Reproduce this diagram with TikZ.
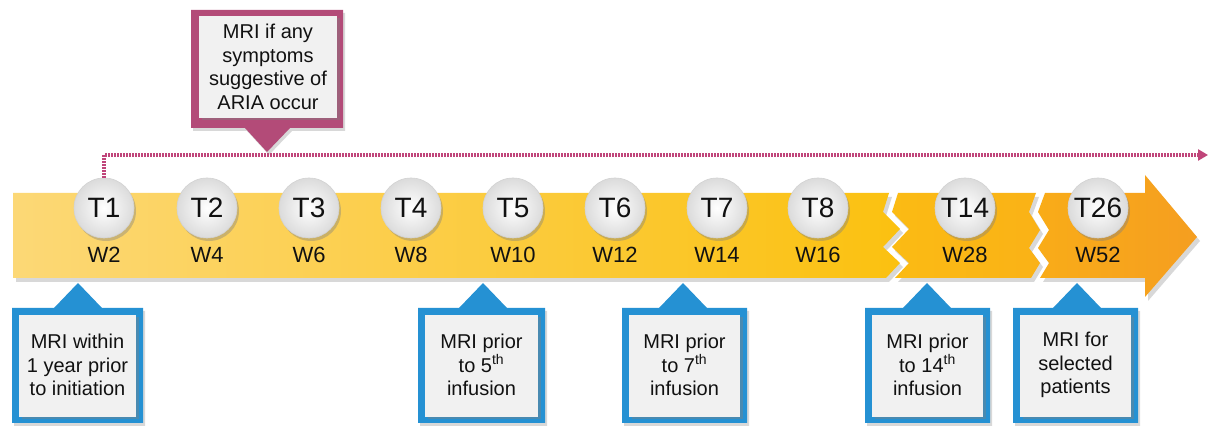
\documentclass[tikz,border=0pt]{standalone}
\usepackage{fontspec}
\setmainfont{Liberation Sans}
\usetikzlibrary{arrows.meta,shadows}
\definecolor{pinkc}{HTML}{B34B78}
\definecolor{dotc}{HTML}{C0457A}
\definecolor{bluec}{HTML}{2591D3}
\definecolor{bandA}{RGB}{252,216,118}
\definecolor{bandB}{RGB}{251,193,16}
\definecolor{bandC}{RGB}{251,187,20}
\definecolor{bandD}{RGB}{250,178,22}
\definecolor{bandE}{RGB}{249,172,24}
\definecolor{bandF}{RGB}{245,158,32}
\definecolor{boxfill}{HTML}{F1F1F1}
\definecolor{txt}{HTML}{111111}
\newcommand\bluecall[5]{%
  \fill[bluec, callshadow] (#2,308) -- ({#4-24},308) -- (#4,283) -- ({#4+24},308) -- (#3,308) -- (#3,423) -- (#2,423) -- cycle;
  \fill[boxfill, innershadow] ({#2+7},315) rectangle ({#3-7},417);
  \node[calltext] (#1) at ({(#2+#3)/2},365) {#5};
}
\begin{document}
\begin{tikzpicture}[x=1pt,y=-1pt,
  tcirc/.style={circle, minimum size=60pt, inner sep=0pt, inner color=white, outer color=gray!28,
    draw=gray!35, line width=0.6pt, text=txt, font=\fontsize{28}{30}\selectfont,
    drop shadow={opacity=0.4, shadow xshift=2pt, shadow yshift=-3pt}},
  wlab/.style={text=txt, font=\fontsize{22}{24}\selectfont, inner sep=0pt},
  calltext/.style={text=txt, align=center, font=\fontsize{20}{23.5}\selectfont, inner sep=0pt},
  callshadow/.style={drop shadow={opacity=0.3, shadow xshift=2pt, shadow yshift=-3pt}},
  innershadow/.style={drop shadow={opacity=0.4, shadow xshift=2.5pt, shadow yshift=-2.5pt, fill=gray}},
  bandshadow/.style={drop shadow={opacity=0.3, shadow xshift=3pt, shadow yshift=-4pt}},
  dotline/.style={dotc, line width=4.5pt, dash pattern=on 1.6pt off 1.4pt},
]
\useasboundingbox (0,0) rectangle (1211,427);
\fill[white] (0,0) rectangle (1211,427);

% band segments
\path[bandshadow, left color=bandA, right color=bandB]
  (13,193) -- (889,193) -- (883,212) -- (900,229) -- (883,247) -- (900,263) -- (886,278) -- (13,278) -- cycle;
\path[bandshadow, left color=bandC, right color=bandD]
  (898,193) -- (1036,193) -- (1029,212) -- (1040,230) -- (1029,248) -- (1040,263) -- (1031,278)
  -- (895,278) -- (909,263) -- (892,247) -- (909,229) -- (892,212) -- cycle;
\path[bandshadow, left color=bandE, right color=bandF]
  (1045,193) -- (1145,193) -- (1145,175) -- (1197,237) -- (1145,297) -- (1145,278) -- (1040,278)
  -- (1049,263) -- (1038,248) -- (1049,230) -- (1038,212) -- cycle;

% circles and week labels
\node[tcirc] (t1) at (104,208) {T1};
\node[tcirc] (t2) at (207,208) {T2};
\node[tcirc] (t3) at (309,208) {T3};
\node[tcirc] (t4) at (411,208) {T4};
\node[tcirc] (t5) at (513,208) {T5};
\node[tcirc] (t6) at (615,208) {T6};
\node[tcirc] (t7) at (717,208) {T7};
\node[tcirc] (t8) at (818,208) {T8};
\node[tcirc] (t14) at (965,208) {T14};
\node[tcirc] (t26) at (1098,208) {T26};
\node[wlab] (w2) at (104,255) {W2};
\node[wlab] (w4) at (207,255) {W4};
\node[wlab] (w6) at (309,255) {W6};
\node[wlab] (w8) at (411,255) {W8};
\node[wlab] (w10) at (513,255) {W10};
\node[wlab] (w12) at (615,255) {W12};
\node[wlab] (w14) at (717,255) {W14};
\node[wlab] (w16) at (818,255) {W16};
\node[wlab] (w28) at (965,255) {W28};
\node[wlab] (w52) at (1098,255) {W52};

% dotted line
\coordinate (dotend) at (1208,155);
\draw[dotline, -{Triangle[length=10pt,width=11pt]}] (t1.north) |- (dotend);

% pink callout
\fill[pinkc, callshadow] (191,10) -- (343,10) -- (343,128) -- (290,128) -- (267,152) -- (245,128) -- (191,128) -- cycle;
\fill[boxfill, innershadow] (199,16) rectangle (337,118);
\node[calltext] (aria) at (268,67) {MRI if any\\symptoms\\suggestive of\\ARIA occur};

% blue callouts
\bluecall{c1}{12}{143}{78}{MRI within\\1 year prior\\to initiation}
\bluecall{c2}{418}{545}{483}{MRI prior\\to 5\textsuperscript{th}\\infusion}
\bluecall{c3}{622}{747}{683}{MRI prior\\to 7\textsuperscript{th}\\infusion}
\bluecall{c4}{865}{990}{927}{MRI prior\\to 14\textsuperscript{th}\\infusion}
\bluecall{c5}{1013}{1138}{1077}{MRI for\\selected\\patients}
\end{tikzpicture}
\end{document}
